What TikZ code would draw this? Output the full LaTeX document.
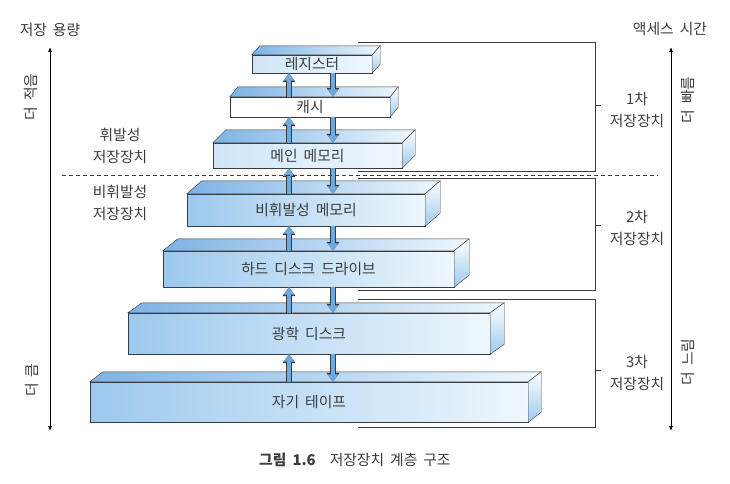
\documentclass[tikz,border=0pt]{standalone}
\usepackage{fontspec}
\setmainfont[WordSpace=1.8]{Noto Sans CJK KR}
\usetikzlibrary{calc,positioning,arrows,arrows.meta}

\definecolor{slabdeep}{HTML}{9CC9EE}
\definecolor{slabpale}{HTML}{CFE6F8}
\definecolor{slablight}{HTML}{EEF7FD}
\definecolor{slabtop}{HTML}{7DB3E4}
\definecolor{flowblue}{HTML}{6EA9DE}
\definecolor{inkgray}{HTML}{3C3C3C}

% top and side faces of a slab: node, dx, dy
\newcommand{\slabfaces}[3]{%
  \shade[draw=inkgray, thin, left color=slabtop, right color=slablight]
    (#1.north west) -- ++(#2,#3) -- ($(#1.north east)+(#2,#3)$) -- (#1.north east) -- cycle;
  \shade[draw=inkgray, thin, top color=white, bottom color=slabdeep]
    (#1.north east) -- ++(#2,#3) -- ($(#1.south east)+(#2,#3)$) -- (#1.south east) -- cycle;
}

\begin{document}
\begin{tikzpicture}[>=stealth', x=1pt, y=-1pt, thin,
    slab/.style={draw=inkgray, inner sep=0pt, left color=slabdeep, right color=slablight,
      font=\fontsize{14.8}{17}\selectfont, text=inkgray},
    paleslab/.style={slab, left color=slabpale},
    tierlabel/.style={align=center, inner sep=0pt, font=\fontsize{14.8}{22}\selectfont, text=inkgray},
    sidetext/.style={inner sep=0pt, font=\fontsize{14.8}{17}\selectfont, text=inkgray},
    bracket/.style={draw=inkgray},
    axis/.style={<->, semithick, draw=black},
    flow/.style={line width=4.2pt, draw=flowblue, -{Triangle[width=10.5pt,length=7.5pt]},
      preaction={draw=inkgray, line width=5.6pt, -{Triangle[width=12.5pt,length=9pt]}}}]
    \useasboundingbox (0,0) rectangle (730,483);

    % storage slabs
    \node (reg)   [paleslab, minimum width=120pt, minimum height=18pt] at (312,64) {레지스터};
    \node (cache) [paleslab, minimum width=160pt, minimum height=20pt, left color=white, right color=white] at (310,107) {캐시};
    \node (main)  [paleslab, minimum width=189pt, minimum height=25pt] at (307.5,155.5) {메인 메모리};
    \node (nvm)   [slab, minimum width=238pt, minimum height=32pt] at (306,210) {비휘발성 메모리};
    \node (hdd)   [slab, minimum width=291pt, minimum height=36pt] at (308.5,269) {하드 디스크 드라이브};
    \node (odd)   [slab, minimum width=362pt, minimum height=41pt] at (309,333.5) {광학 디스크};
    \node (tape)  [slab, minimum width=438pt, minimum height=40pt] at (309,402) {자기 테이프};

    \slabfaces{reg}{8}{-9}
    \slabfaces{cache}{8}{-10}
    \slabfaces{main}{13}{-13}
    \slabfaces{nvm}{15}{-13}
    \slabfaces{hdd}{15}{-12}
    \slabfaces{odd}{14}{-10}
    \slabfaces{tape}{13}{-10}

    % data flow between levels
    \coordinate (upx) at (289,0);
    \coordinate (dnx) at (333,0);
    \foreach \hi/\lo in {reg/cache, cache/main, main/nvm, nvm/hdd, hdd/odd, odd/tape} {
        \draw[flow] (\lo.north -| upx) -- (\hi.south -| upx);
        \draw[flow] (\hi.south -| dnx) -- (\lo.north -| dnx);
    }

    % volatile / non-volatile split
    \coordinate (splitl) at (62,175);
    \coordinate (splitr) at (658,175);
    \draw[dashed, dash pattern=on 4pt off 3pt, draw=inkgray] (splitl) -- (splitr);
    \node (vol)  [tierlabel] at (120,146) {휘발성\\저장장치};
    \node (nvol) [tierlabel] at (120,203) {비휘발성\\저장장치};

    % tiers
    \draw[bracket] (358,42) -| (595,171) -- (358,171);
    \draw[bracket] (595,105) -- ++(6,0);
    \node (tier1) [tierlabel] at (637,110) {1차\\저장장치};

    \draw[bracket] (358,178) -| (595,290) -- (358,290);
    \draw[bracket] (595,225) -- ++(6,0);
    \node (tier2) [tierlabel] at (637,228) {2차\\저장장치};

    \draw[bracket] (358,299) -| (595,427) -- (358,427);
    \draw[bracket] (595,370) -- ++(6,0);
    \node (tier3) [tierlabel] at (637,373) {3차\\저장장치};

    % axes
    \coordinate (capbot) at (50,430);
    \coordinate (captop) at (50,48);
    \draw[axis] (capbot) -- (captop);
    \node (captitle) [sidetext] at (50,30) {저장 용량};
    \node (less) [sidetext, rotate=90] at (31,97) {더 적음};
    \node (more) [sidetext, rotate=90] at (32,380) {더 큼};

    \coordinate (acctop) at (671,48);
    \coordinate (accbot) at (671,430);
    \draw[axis] (acctop) -- (accbot);
    \node (acctitle) [sidetext] at (670,29) {액세스 시간};
    \node (fast) [sidetext, rotate=90] at (688,100) {더 빠름};
    \node (slow) [sidetext, rotate=90] at (688,362) {더 느림};

    % caption
    \node (caption) [sidetext, anchor=west] at (259,460) {{\bfseries 그림 1.6}\hspace{14pt}저장장치 계층 구조};
\end{tikzpicture}
\end{document}
